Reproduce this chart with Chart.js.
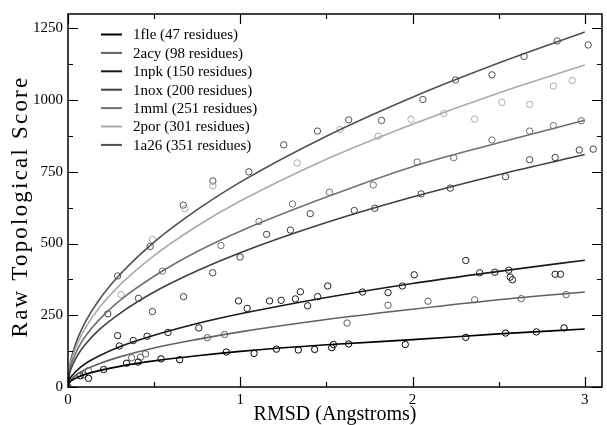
<!DOCTYPE html>
<html>
<head>
<meta charset="utf-8">
<script src="https://cdn.jsdelivr.net/npm/chart.js@4.4.1/dist/chart.umd.min.js"></script>
<style>
  html, body { margin: 0; padding: 0; background: #fff; }
  #wrap { width: 607px; height: 425px; }
</style>
</head>
<body>
<div id="wrap"><canvas id="c"></canvas></div>
<script>
// series names (legend order)
const names = ['1fle (47 residues)', '2acy (98 residues)', '1npk (150 residues)',
  '1nox (200 residues)', '1mml (251 residues)', '2por (301 residues)', '1a26 (351 residues)'];
const colors = ['#000000', '#606060', '#1a1a1a', '#404040', '#707070', '#aaaaaa', '#505050'];

// fitted curves at these RMSD values
const curveX = [0, 0.01, 0.03, 0.06, 0.1, 0.18, 0.3, 0.5, 0.75, 1, 1.5, 2, 2.5, 3];
const fleCurve = [0, 16, 26, 35, 44, 57, 72, 91, 109, 124, 147, 165, 185, 202];
const acyCurve = [0, 19, 33, 47, 61, 81, 105, 136, 166, 192, 235, 271, 304, 331];
const npkCurve = [0, 26, 44, 62, 81, 108, 140, 180, 221, 255, 312, 361, 403, 442];
const noxCurve = [0, 47, 81, 115, 148, 199, 256, 331, 405, 468, 573, 662, 740, 810];
const mmlCurve = [0, 57, 97, 137, 176, 234, 301, 386, 472, 543, 662, 768, 851, 930];
const porCurve = [0, 65, 112, 159, 205, 275, 355, 458, 561, 648, 794, 916, 1025, 1122];
const a26Curve = [0, 71, 124, 175, 226, 303, 391, 505, 618, 714, 874, 1010, 1129, 1237];

// measured points [RMSD, score]
const flePts = [[0,0],[0.071,39],[0.119,30],[0.207,61],[0.340,83],[0.407,87],[0.540,98],[0.648,95],
  [0.919,122],[1.080,117],[1.210,132],[1.337,129],[1.432,131],[1.531,137],[1.541,148],[1.629,150],
  [1.958,148],[2.309,173],[2.540,188],[2.719,192],[2.880,206]];
const acyPts = [[0.090,42],[0.119,57],[0.369,102],[0.421,104],[0.450,115],[0.809,172],[0.909,183],
  [1.620,223],[1.858,285],[2.090,299],[2.361,304],[2.631,308],[2.892,322]];
const npkPts = [[0.288,179],[0.298,143],[0.379,162],[0.459,177],[0.580,190],[0.759,206],[0.990,300],
  [1.040,274],[1.170,300],[1.237,302],[1.320,307],[1.349,332],[1.391,283],[1.449,315],[1.508,352],
  [1.710,331],[1.858,329],[1.941,352],[2.010,391],[2.309,441],[2.390,398],[2.478,400],[2.559,407],
  [2.567,383],[2.580,374],[2.828,393],[2.859,393]];
const noxPts = [[0.231,255],[0.409,309],[0.490,263],[0.671,315],[0.840,398],[0.999,453],[1.153,532],
  [1.291,547],[1.406,604],[1.662,615],[1.781,623],[2.050,673],[2.219,693],[2.540,733],[2.680,792],
  [2.828,800],[2.968,826],[3.049,829]];
const mmlPts = [[0.548,404],[0.888,493],[1.109,577],[1.303,638],[1.518,679],[1.772,704],[2.027,784],
  [2.239,799],[2.461,861],[2.680,892],[2.818,911],[2.980,928]];
const porPts = [[0.308,322],[0.490,514],[0.678,621],[0.841,701],[1.330,781],[1.579,897],[1.801,874],
  [1.991,933],[2.181,953],[2.361,934],[2.519,992],[2.680,985],[2.818,1049],[2.928,1068]];
const a26Pts = [[0.288,387],[0.477,490],[0.669,634],[0.841,718],[1.050,750],[1.252,844],[1.448,892],
  [1.629,931],[1.820,929],[2.060,1002],[2.250,1070],[2.461,1088],[2.648,1152],[2.840,1206],[3.020,1192]];

// axis ticks
const xMajor = [0, 1, 2, 3];
const xMinor = [0.5, 1.5, 2.5];
const yMajor = [0, 250, 500, 750, 1000, 1250];
const yMinor = [125, 375, 625, 875, 1125];

const curves = [fleCurve, acyCurve, npkCurve, noxCurve, mmlCurve, porCurve, a26Curve];
const points = [flePts, acyPts, npkPts, noxPts, mmlPts, porPts, a26Pts];

const serif = '"Liberation Serif", "DejaVu Serif", serif';

let datasets = [];
curves.forEach((c, i) => {
  datasets.push({
    label: names[i],
    data: curveX.map((x, j) => ({ x: x, y: c[j] })),
    showLine: true,
    borderColor: colors[i],
    borderWidth: 1.6,
    pointRadius: 0,
    cubicInterpolationMode: 'monotone',
    fill: false
  });
});
points.forEach((p, i) => {
  datasets.push({
    label: names[i] + ' pts',
    data: p.map(d => ({ x: d[0], y: d[1] })),
    showLine: false,
    borderColor: colors[i],
    backgroundColor: 'rgba(0,0,0,0)',
    borderWidth: 1,
    pointRadius: 3.2,
    pointStyle: 'circle'
  });
});

// frame, inward ticks, y title and the legend drawn inside the plot
const framePlugin = {
  id: 'frame',
  afterDraw(chart) {
    const ctx = chart.ctx;
    const a = chart.chartArea;
    const xs = chart.scales.x, ys = chart.scales.y;
    ctx.save();
    ctx.strokeStyle = '#000';
    ctx.lineWidth = 1.2;
    ctx.beginPath();
    xMajor.concat(xMinor).forEach(v => {
      const len = xMajor.includes(v) ? 10 : 5;
      const px = Math.round(xs.getPixelForValue(v)) + 0.5;
      ctx.moveTo(px, a.bottom); ctx.lineTo(px, a.bottom - len);
      ctx.moveTo(px, a.top); ctx.lineTo(px, a.top + len);
    });
    yMajor.concat(yMinor).forEach(v => {
      const len = yMajor.includes(v) ? 10 : 5;
      const py = Math.round(ys.getPixelForValue(v)) + 0.5;
      ctx.moveTo(a.left, py); ctx.lineTo(a.left + len, py);
      ctx.moveTo(a.right, py); ctx.lineTo(a.right - len, py);
    });
    ctx.stroke();
    ctx.lineWidth = 1.5;
    ctx.strokeRect(a.left, a.top, a.right - a.left, a.bottom - a.top);

    // y axis title, a little spaced out like the original
    ctx.save();
    ctx.translate(21, (a.top + a.bottom) / 2 + 6);
    ctx.rotate(-Math.PI / 2);
    ctx.font = '23px ' + serif;
    ctx.letterSpacing = '2.2px';
    ctx.fillStyle = '#000';
    ctx.textAlign = 'center';
    ctx.textBaseline = 'middle';
    ctx.fillText('Raw Topological Score', 0, 0);
    ctx.restore();

    // legend
    ctx.font = '15px ' + serif;
    ctx.textBaseline = 'middle';
    ctx.textAlign = 'left';
    names.forEach((n, i) => {
      const y = 34.5 + i * 18.4;
      ctx.strokeStyle = colors[i];
      ctx.lineWidth = 2;
      ctx.beginPath();
      ctx.moveTo(101, y); ctx.lineTo(122, y);
      ctx.stroke();
      ctx.fillStyle = '#000';
      ctx.fillText(n, 133, y + 1);
    });
    ctx.restore();
  }
};

new Chart(document.getElementById('c'), {
  type: 'scatter',
  data: { datasets: datasets },
  options: {
    responsive: true,
    maintainAspectRatio: false,
    animation: false,
    layout: { padding: { top: 11, right: 1, left: 0, bottom: 0 } },
    plugins: {
      legend: { display: false },
      tooltip: { enabled: false }
    },
    scales: {
      x: {
        type: 'linear',
        min: 0,
        max: 3.1,
        afterFit: s => { s.height = 38; },
        afterBuildTicks: s => { s.ticks = xMajor.map(v => ({ value: v })); },
        grid: { display: false, drawTicks: false },
        border: { display: false },
        ticks: {
          padding: 4,
          color: '#000',
          font: { family: serif, size: 15 },
          maxRotation: 0,
          callback: v => String(v)
        },
        title: {
          display: true,
          text: 'RMSD (Angstroms)',
          color: '#000',
          font: { family: serif, size: 20 },
          padding: { top: 0, bottom: -2 }
        }
      },
      y: {
        type: 'linear',
        min: 0,
        max: 1300,
        afterFit: s => { s.width = 68; },
        afterBuildTicks: s => { s.ticks = yMajor.map(v => ({ value: v })); },
        grid: { display: false, drawTicks: false },
        border: { display: false },
        ticks: {
          padding: 5,
          color: '#000',
          font: { family: serif, size: 15 },
          callback: v => String(v)
        },
        title: { display: false }
      }
    }
  },
  plugins: [framePlugin]
});
</script>
</body>
</html>
